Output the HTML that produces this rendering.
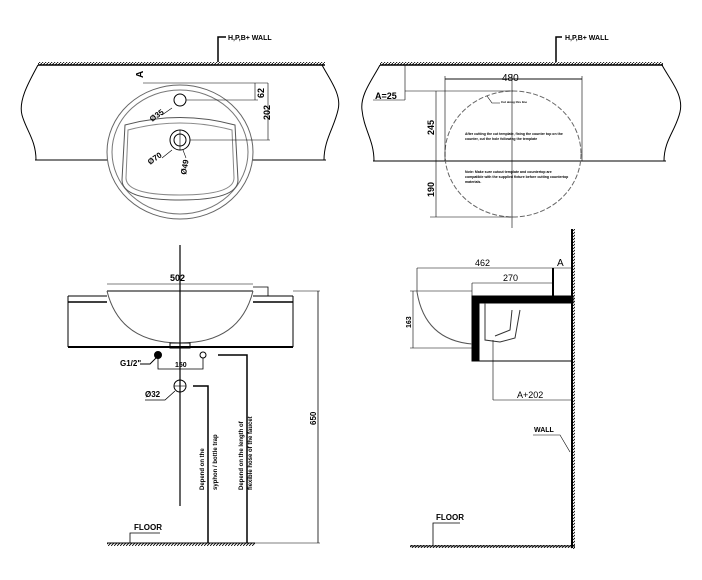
<!DOCTYPE html>
<html><head><meta charset="utf-8"><style>
html,body{margin:0;padding:0;background:#fff;}
svg{display:block;font-family:"Liberation Sans",sans-serif;}
text{font-family:"Liberation Sans",sans-serif;fill:#000;}
</style></head><body>
<svg width="702" height="580" viewBox="0 0 702 580" xmlns="http://www.w3.org/2000/svg">
<defs>
<pattern id="h" width="3" height="3" patternUnits="userSpaceOnUse"><path d="M0 3L3 0" stroke="#000" stroke-width="0.8"/></pattern>
</defs>
<g fill="none" stroke="#000" stroke-width="1">
<!-- TOP LEFT -->
<rect x="38" y="62" width="287" height="3" fill="url(#h)" stroke="none"/>
<line x1="38" y1="65" x2="325" y2="65" stroke-width="1.5"/>
<path d="M38 65 C30 80,18 100,22 115 C26 130,36 140,36 160"/>
<path d="M322 65 C330 80,342 95,338 110 C334 128,324 140,324 160"/>
<line x1="35" y1="160" x2="108" y2="160"/>
<line x1="252" y1="160" x2="326" y2="160"/>
<polyline points="218,62 218,37 226,37" stroke-width="1.5"/>
<ellipse cx="180" cy="152" rx="73" ry="67" stroke="#666"/>
<ellipse cx="180" cy="152" rx="68" ry="62" stroke="#777"/>
<path d="M125 125 Q180 110 235 125 L238 180 Q238 200 180 200 Q122 200 122 180 Z" stroke="#555"/>
<path d="M128 130 Q180 116 232 130 L234 178 Q234 195 180 195 Q126 195 126 178 Z" stroke="#888"/>
<circle cx="180" cy="100" r="6"/>
<circle cx="180" cy="140" r="10"/>
<circle cx="180" cy="140" r="6"/>
<line x1="180" y1="130" x2="180" y2="150" stroke-width="0.6"/>
<line x1="143" y1="83" x2="268" y2="83" stroke-width="0.6"/>
<line x1="186" y1="100" x2="258" y2="100" stroke-width="0.6"/>
<line x1="190" y1="140" x2="270" y2="140" stroke-width="0.6"/>
<line x1="255" y1="83" x2="255" y2="100" stroke-width="0.6"/>
<line x1="268" y1="83" x2="268" y2="140" stroke-width="0.6"/>
<line x1="172" y1="108" x2="162" y2="115" stroke-width="0.6"/>
<line x1="172" y1="150" x2="162" y2="158" stroke-width="0.6"/>
<line x1="183" y1="150" x2="186" y2="158" stroke-width="0.6"/>
<!-- TOP RIGHT -->
<rect x="380" y="62" width="283" height="3" fill="url(#h)" stroke="none"/>
<line x1="380" y1="65" x2="663" y2="65" stroke-width="1.5"/>
<path d="M380 65 C372 80,360 95,362 110 C364 130,374 140,374 161"/>
<path d="M662 65 C670 80,684 95,680 112 C676 130,664 140,664 161"/>
<line x1="373" y1="161" x2="666" y2="161"/>
<polyline points="556,62 556,37 562,37" stroke-width="1.5"/>
<ellipse cx="513" cy="154" rx="68" ry="63" stroke="#666" stroke-dasharray="5,2"/>
<line x1="512" y1="74" x2="512" y2="228" stroke-width="0.6"/>
<line x1="445" y1="79" x2="582" y2="79" stroke="#888" stroke-width="2"/>
<line x1="445" y1="76" x2="445" y2="161" stroke-width="0.6"/>
<line x1="582" y1="76" x2="582" y2="161" stroke-width="0.6"/>
<line x1="405" y1="91" x2="513" y2="91" stroke-width="0.6"/>
<line x1="430" y1="217" x2="513" y2="217" stroke-width="0.6"/>
<line x1="436" y1="91" x2="436" y2="217" stroke-width="0.6"/>
<line x1="405" y1="65" x2="405" y2="100" stroke-width="0.6"/>
<polyline points="373,100 405,100" stroke-width="0.6"/>
<polyline points="487,96 492,103 500,103" stroke-width="0.6"/>
<!-- BOTTOM LEFT -->
<line x1="68" y1="296" x2="107" y2="296"/>
<line x1="253" y1="296" x2="293" y2="296"/>
<line x1="68" y1="302" x2="107" y2="302" stroke-width="1.5"/>
<line x1="253" y1="302" x2="293" y2="302" stroke-width="1.5"/>
<path d="M68 296 L68 347 M293 296 L293 347"/>
<line x1="68" y1="347" x2="293" y2="347" stroke-width="2"/>
<line x1="107" y1="291" x2="253" y2="291"/>
<path d="M107 291 Q120 343 180 343 Q240 343 253 291" stroke="#555"/>
<line x1="107" y1="284" x2="253" y2="284" stroke-width="0.6"/>
<polyline points="253,287 268,287 268,296" stroke-width="0.8"/>
<rect x="170" y="343" width="20" height="5"/>
<line x1="180" y1="245" x2="180" y2="506" stroke-width="1.2"/>
<circle cx="158" cy="355" r="3.5" fill="#000"/>
<circle cx="203" cy="355" r="3"/>
<polyline points="158,358 158,369 203,369 203,358" stroke-width="0.8"/>
<polyline points="140,364 150,364 157,357" stroke-width="1"/>
<circle cx="180" cy="386" r="6"/>
<line x1="174" y1="386" x2="186" y2="386" stroke-width="0.6"/>
<polyline points="145,400 165,400 175,391" stroke-width="0.8"/>
<polyline points="193,386 208,386 208,543" stroke-width="1.5"/>
<polyline points="218,355 247,355 247,543" stroke-width="1.5"/>
<line x1="318" y1="291" x2="318" y2="543" stroke-width="0.8"/>
<line x1="293" y1="291" x2="320" y2="291" stroke-width="0.6"/>
<line x1="255" y1="543" x2="320" y2="543" stroke-width="0.6"/>
<rect x="107" y="543" width="148" height="3" fill="url(#h)" stroke="none"/>
<line x1="107" y1="543" x2="255" y2="543"/>
<polyline points="130,543 130,533 160,533" stroke-width="0.8"/>
<!-- BOTTOM RIGHT -->
<rect x="571" y="229" width="4" height="320" fill="url(#h)" stroke="none"/>
<line x1="572" y1="229" x2="572" y2="548" stroke-width="2"/>
<rect x="410" y="545" width="165" height="3" fill="url(#h)" stroke="none"/>
<line x1="410" y1="546" x2="575" y2="546"/>
<rect x="472" y="296" width="101" height="7" fill="#000"/>
<rect x="472" y="296" width="7" height="65" fill="#000"/>
<line x1="479" y1="361" x2="573" y2="361"/>
<path d="M417 292 Q425 340 472 344" stroke="#555"/>
<path d="M485 303 L485 340 L500 342 L515 338 L520 310 M512 310 L510 330 L495 336" stroke="#333"/>
<line x1="417" y1="268" x2="553" y2="268" stroke-width="0.6"/>
<line x1="417" y1="268" x2="417" y2="292" stroke-width="0.6"/>
<line x1="472" y1="283" x2="553" y2="283" stroke-width="0.6"/>
<line x1="472" y1="283" x2="472" y2="296" stroke-width="0.6"/>
<line x1="553" y1="268" x2="553" y2="296" stroke-width="2"/>
<line x1="553" y1="268" x2="572" y2="268" stroke-width="0.6"/>
<line x1="410" y1="291" x2="472" y2="291" stroke-width="0.6"/>
<line x1="410" y1="348" x2="472" y2="348" stroke-width="0.6"/>
<line x1="413" y1="291" x2="413" y2="348" stroke-width="0.6"/>
<line x1="493" y1="340" x2="493" y2="400" stroke-width="0.6"/>
<line x1="493" y1="400" x2="572" y2="400" stroke-width="0.6"/>
<polyline points="533,435 560,435 570,452" stroke-width="0.6"/>
<polyline points="433,545 433,523 460,523" stroke-width="0.8"/>
</g>
<g font-size="7" font-weight="bold">
<text x="228" y="40">H,P,B+ WALL</text>
<text x="565" y="40">H,P,B+ WALL</text>
<text x="143" y="78" transform="rotate(-90 143 78)" font-size="10">A</text>
<text x="264" y="98" transform="rotate(-90 264 98)" font-size="9">62</text>
<text x="270" y="120" transform="rotate(-90 270 120)" font-size="9">202</text>
<text x="152" y="122" transform="rotate(-35 152 122)" font-size="8">Ø35</text>
<text x="150" y="165" transform="rotate(-35 150 165)" font-size="8">Ø70</text>
<text x="186" y="175" transform="rotate(-80 186 175)" font-size="8">Ø49</text>
<text x="502" y="81" font-size="10" font-weight="normal">480</text>
<text x="375" y="99" font-size="9">A=25</text>
<text x="434" y="135" transform="rotate(-90 434 135)" font-size="9">245</text>
<text x="434" y="197" transform="rotate(-90 434 197)" font-size="9">190</text>
<text x="501" y="103" font-size="3">Cut along this line</text>
<text x="465" y="135" font-size="3.5">After cutting the cut template, fixing the counter top on the</text>
<text x="465" y="140" font-size="3.5">counter, cut the hole following the template</text>
<text x="465" y="173" font-size="3.5">Note: Make sure cutout template and countertop are</text>
<text x="465" y="178" font-size="3.5">compatible with the supplied fixture before cutting countertop</text>
<text x="465" y="183" font-size="3.5">materials.</text>
<text x="170" y="281" font-size="9">502</text>
<text x="120" y="366" font-size="8">G1/2"</text>
<text x="175" y="367" font-size="7">150</text>
<text x="145" y="397" font-size="8">Ø32</text>
<text x="204" y="490" transform="rotate(-90 204 490)" font-size="6">Depend on the</text>
<text x="217" y="490" transform="rotate(-90 217 490)" font-size="6">syphon / bottle trap</text>
<text x="243" y="490" transform="rotate(-90 243 490)" font-size="6">Depend on the length of</text>
<text x="252" y="490" transform="rotate(-90 252 490)" font-size="6">flexible hose of the faucet</text>
<text x="316" y="425" transform="rotate(-90 316 425)" font-size="8">650</text>
<text x="134" y="530" font-size="8">FLOOR</text>
<text x="475" y="266" font-size="9" font-weight="normal">462</text>
<text x="503" y="281" font-size="9" font-weight="normal">270</text>
<text x="557" y="266" font-size="10" font-weight="normal">A</text>
<text x="411" y="328" transform="rotate(-90 411 328)" font-size="7">163</text>
<text x="517" y="398" font-size="9" font-weight="normal">A+202</text>
<text x="534" y="432" font-size="7">WALL</text>
<text x="436" y="520" font-size="8">FLOOR</text>
</g>
</svg>
</body></html>
